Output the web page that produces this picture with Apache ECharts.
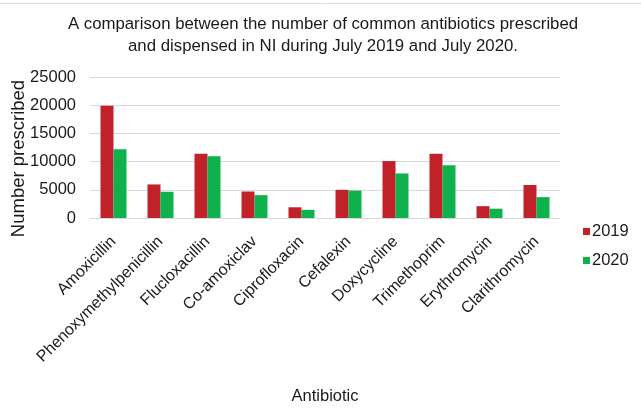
<!DOCTYPE html>
<html>
<head>
<meta charset="utf-8">
<script src="https://cdn.jsdelivr.net/npm/echarts@6/dist/echarts.min.js"></script>
<style>
  html, body { margin: 0; padding: 0; background: #fff; }
  #chart { width: 641px; height: 410px; }
</style>
</head>
<body>
<div id="chart"></div>
<script>
// Antibiotics prescribed and dispensed in NI, July 2019 vs July 2020
const antibiotics = ['Amoxicillin', 'Phenoxymethylpenicillin', 'Flucloxacillin', 'Co-amoxiclav',
  'Ciprofloxacin', 'Cefalexin', 'Doxycycline', 'Trimethoprim', 'Erythromycin', 'Clarithromycin'];
const july2019 = [19900, 5950, 11400, 4700, 1900, 5000, 10100, 11400, 2100, 5850];
const july2020 = [12200, 4650, 10950, 4050, 1450, 4850, 7900, 9350, 1650, 3700];
const yTicks = { min: 0, max: 25000, interval: 5000 };

const font = 'Liberation Sans, Arial, sans-serif';
const chart = echarts.init(document.getElementById('chart'));
chart.setOption({
  animation: false,
  backgroundColor: '#fff',
  graphic: [{
    type: 'line', shape: { x1: 0, y1: 3.5, x2: 641, y2: 3.5 },
    style: { stroke: '#dcdcdc', lineWidth: 1 }
  }],
  title: {
    text: 'A comparison between the number of common antibiotics prescribed\nand dispensed in NI during July 2019 and July 2020.',
    left: 318, top: 8, textAlign: 'center',
    textStyle: { fontFamily: font, fontSize: 16.8, fontWeight: 'normal', color: '#1a1a1a', lineHeight: 22 }
  },
  legend: {
    orient: 'vertical', left: 578, top: 218, itemGap: 12,
    itemWidth: 7, itemHeight: 7, icon: 'rect',
    textStyle: { fontFamily: font, fontSize: 16.5, color: '#1a1a1a', padding: [0, 0, 0, -3] }
  },
  grid: { left: 90, right: 81, top: 77, bottom: 192, containLabel: false, outerBoundsMode: 'none' },
  xAxis: {
    type: 'category', data: antibiotics,
    name: 'Antibiotic', nameLocation: 'middle', nameGap: 170, nameMoveOverlap: false,
    nameTextStyle: { fontFamily: font, fontSize: 16.5, color: '#1a1a1a' },
    axisLine: { lineStyle: { color: '#d9d9d9' } },
    axisTick: { show: false },
    axisLabel: { interval: 0, rotate: 45, fontFamily: font, fontSize: 16, color: '#1a1a1a', margin: 21 }
  },
  yAxis: {
    type: 'value', min: yTicks.min, max: yTicks.max, interval: yTicks.interval,
    name: 'Number prescribed', nameLocation: 'middle', nameGap: 62, nameRotate: 90,
    nameMoveOverlap: false,
    nameTextStyle: { fontFamily: font, fontSize: 18.5, color: '#1a1a1a', padding: [0, 22, 0, 0] },
    axisLine: { show: false }, axisTick: { show: false },
    splitLine: { lineStyle: { color: '#d9d9d9', width: 1 } },
    axisLabel: { fontFamily: font, fontSize: 16.5, color: '#1a1a1a', margin: 14,
      formatter: v => String(v) }
  },
  series: [
    { name: '2019', type: 'bar', data: july2019, barWidth: 13, barGap: '0%',
      itemStyle: { color: '#c1222a' } },
    { name: '2020', type: 'bar', data: july2020, barWidth: 13,
      itemStyle: { color: '#0fb14c' } }
  ]
});
</script>
</body>
</html>
